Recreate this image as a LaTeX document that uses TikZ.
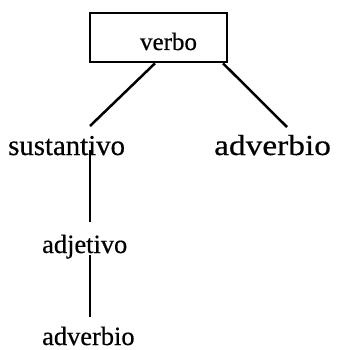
\documentclass[tikz,border=0pt]{standalone}
\usepackage{fontspec}
\setmainfont{Liberation Serif}[FakeBold=0.5]
\newfontfamily\widefont{Liberation Serif}[FakeStretch=1.15,FakeBold=0.5]
\begin{document}
\begin{tikzpicture}[x=1pt,y=-1pt,
  edge/.style={line width=2.5pt},
  lbl/.style={inner sep=0pt, anchor=base west},
  rootbox/.style={draw, line width=2.6pt, minimum width=137pt, minimum height=49pt,
    inner sep=0pt, text height=30pt, text depth=5pt, font=\fontsize{25}{30}\selectfont}]
\useasboundingbox (0,0) rectangle (350,350);
\fill[white] (0,0) rectangle (350,350);
\node[rootbox] (verbo) at (158.5,37.5) {\hspace*{20pt}verbo};
\node[lbl, font=\fontsize{28.8}{34}\selectfont] (sust) at (8,155) {sustantivo};
\node[lbl, font=\widefont\fontsize{29}{34}\selectfont] (advr) at (214,155) {adverbio};
\node[lbl, font=\fontsize{26.4}{32}\selectfont] (adj) at (42,253) {adjetivo};
\node[lbl, font=\fontsize{26.4}{32}\selectfont] (advb) at (42,345) {adverbio};
\coordinate (sustTop) at (90,126);
\coordinate (advrTop) at (287,127);
\coordinate (sustBot) at (90,150);
\coordinate (adjTop) at (90,222);
\coordinate (adjBot) at (90,255);
\coordinate (advbTop) at (90,317);
\draw[edge] ([xshift=-3.5pt]verbo.south) -- (sustTop);
\draw[edge] ([xshift=64.5pt]verbo.south) -- (advrTop);
\draw[edge] (sustBot) -- (adjTop);
\draw[edge] (adjBot) -- (advbTop);
\end{tikzpicture}
\end{document}
